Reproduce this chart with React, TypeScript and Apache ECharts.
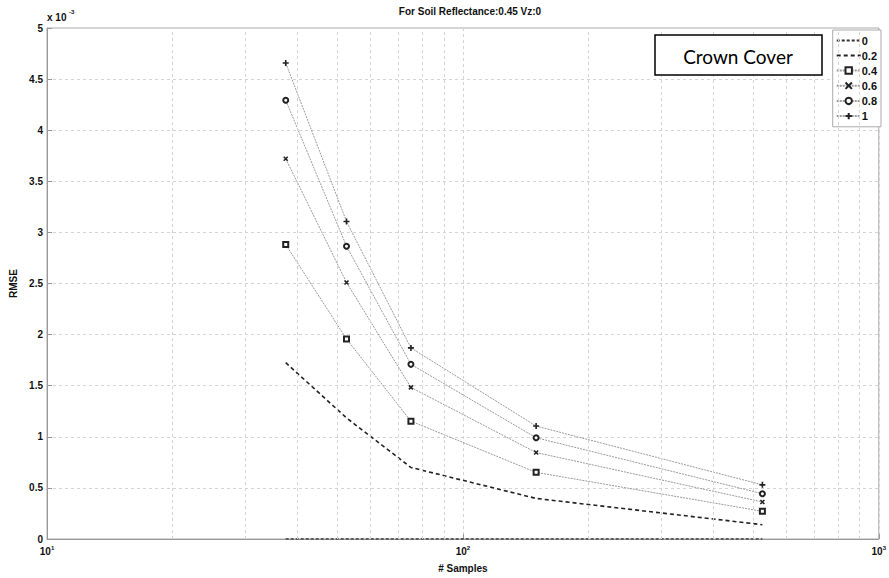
import React, { useEffect, useRef } from "react";
import * as echarts from "echarts";

const samples = [37.5, 52.5, 75, 150, 525];
const seriesNames = ["0", "0.2", "0.4", "0.6", "0.8", "1"];
// RMSE values in units of 1e-3
const cc0 = [0, 0, 0, 0, 0];
const cc02 = [1.725, 1.185, 0.70, 0.397, 0.14];
const cc04 = [2.881, 1.957, 1.153, 0.652, 0.271];
const cc06 = [3.721, 2.51, 1.483, 0.846, 0.362];
const cc08 = [4.293, 2.865, 1.709, 0.991, 0.443];
const cc1 = [4.658, 3.107, 1.87, 1.105, 0.53];
const minorGridX = [20, 30, 40, 50, 60, 70, 80, 90, 200, 300, 400, 500, 600, 700, 800, 900];
const yTicks = [0, 0.5, 1, 1.5, 2, 2.5, 3, 3.5, 4, 4.5, 5];

const FONT = "Liberation Sans";

export default function App() {
  const ref = useRef<HTMLDivElement>(null);
  useEffect(() => {
    if (!ref.current) return;
    const chart = echarts.init(ref.current, null, { renderer: "svg" });
    const pts = (arr: number[]) => samples.map((s, i) => [s, arr[i]]);
    const markerLine = { color: "#9a9a9a", width: 1, type: [2, 1] as any };
    const markerItem = { color: "#222", borderColor: "#222", borderWidth: 1.3 };
    const gridStyle = { color: "#d4d4d4", width: 1, type: [3, 3] as any };
    chart.setOption({
      animation: false,
      backgroundColor: "#fff",
      title: {
        text: "For Soil Reflectance:0.45 Vz:0",
        left: 465,
        textAlign: "center",
        top: 1,
        textStyle: { fontFamily: FONT, fontSize: 10, fontWeight: "bold", color: "#111" },
      },
      grid: {
        left: 47,
        right: 7,
        top: 28,
        bottom: 34,
        show: true,
        borderColor: "#aaa",
        borderWidth: 1,
      },
      legend: {
        orient: "vertical",
        right: 8,
        top: 30,
        data: seriesNames.map((n, i) =>
          i < 2 ? { name: n, itemStyle: { opacity: 0 } } : { name: n }
        ),
        itemWidth: 24,
        itemHeight: 8,
        itemGap: 4,
        padding: [5, 4, 5, 3],
        borderColor: "#aaa",
        borderWidth: 1,
        backgroundColor: "#fff",
        textStyle: { fontFamily: FONT, fontSize: 11, fontWeight: "bold", color: "#111", padding: [0, 0, 0, -4] },
      },
      xAxis: {
        type: "log",
        logBase: 10,
        min: 10,
        max: 1000,
        name: "# Samples",
        nameLocation: "middle",
        nameGap: 24,
        nameTextStyle: { fontFamily: FONT, fontSize: 10, fontWeight: "bold", color: "#111" },
        axisLine: { show: true, lineStyle: { color: "#999" } },
        axisTick: { show: true, inside: true, length: 5, lineStyle: { color: "#999" } },
        splitLine: { show: true, lineStyle: gridStyle },
        axisLabel: {
          margin: 6,
          formatter: (v: number) => `{b|10}{s|${Math.round(Math.log10(v))}}`,
          rich: {
            b: { fontFamily: FONT, fontSize: 10, fontWeight: "bold", color: "#111" },
            s: { fontFamily: FONT, fontSize: 6, fontWeight: "bold", color: "#111", padding: [0, 0, 7, 0] },
          },
        },
      },
      yAxis: {
        type: "value",
        min: 0,
        max: 5,
        interval: 0.5,
        name: "RMSE",
        nameLocation: "middle",
        nameGap: 25,
        nameTextStyle: { fontFamily: FONT, fontSize: 10, fontWeight: "bold", color: "#111" },
        axisLine: { show: true, lineStyle: { color: "#999" } },
        axisTick: { show: true, inside: true, length: 5, lineStyle: { color: "#999" } },
        splitLine: { show: true, lineStyle: gridStyle },
        axisLabel: {
          margin: 4,
          fontFamily: FONT,
          fontSize: 10,
          fontWeight: "bold",
          color: "#111",
          formatter: (v: number) => (yTicks.includes(v) ? String(v) : ""),
        },
      },
      graphic: [
        {
          type: "text",
          left: 47,
          top: 12,
          style: { text: "x 10", fontFamily: FONT, fontSize: 10, fontWeight: "bold", fill: "#111" },
        },
        {
          type: "text",
          left: 69,
          top: 9,
          style: { text: "-3", fontFamily: FONT, fontSize: 6, fontWeight: "bold", fill: "#111" },
        },
        {
          type: "rect",
          shape: { x: 655, y: 35, width: 167, height: 40 },
          style: { fill: "#fff", stroke: "#000", lineWidth: 1.5 },
          z: 100,
        },
        {
          type: "text",
          x: 738,
          y: 56,
          style: {
            text: "Crown Cover",
            fontFamily: "Lato",
            fontSize: 19,
            fill: "#000",
            align: "center",
            verticalAlign: "middle",
          },
          z: 101,
        },
      ],
      series: [
        {
          name: "0",
          type: "line",
          data: pts(cc0),
          symbol: "none",
          lineStyle: { color: "#333", width: 1.6, type: [3, 2] },
          itemStyle: { color: "#333" },
          markLine: {
            silent: true,
            symbol: "none",
            label: { show: false },
            lineStyle: gridStyle,
            data: minorGridX.map((v) => ({ xAxis: v })),
          },
        },
        {
          name: "0.2",
          type: "line",
          data: pts(cc02),
          symbol: "none",
          lineStyle: { color: "#222", width: 1.6, type: [4, 3] },
          itemStyle: { color: "#222" },
        },
        {
          name: "0.4",
          type: "line",
          data: pts(cc04),
          symbol: "emptyRect",
          symbolSize: 5,
          lineStyle: markerLine,
          itemStyle: markerItem,
        },
        {
          name: "0.6",
          type: "line",
          data: pts(cc06),
          symbol: "path://M0 0L10 10M10 0L0 10",
          symbolSize: 4,
          lineStyle: markerLine,
          itemStyle: { color: "none", borderColor: "#222", borderWidth: 1.6 },
        },
        {
          name: "0.8",
          type: "line",
          data: pts(cc08),
          symbol: "emptyCircle",
          symbolSize: 5,
          lineStyle: markerLine,
          itemStyle: markerItem,
        },
        {
          name: "1",
          type: "line",
          data: pts(cc1),
          symbol: "path://M5 0L5 10M0 5L10 5",
          symbolSize: 6,
          lineStyle: markerLine,
          itemStyle: { color: "none", borderColor: "#222", borderWidth: 1.6 },
        },
      ],
    });
    return () => chart.dispose();
  }, []);
  return <div ref={ref} style={{ width: 889, height: 578, position: "absolute", left: 0, top: 0 }} />;
}
